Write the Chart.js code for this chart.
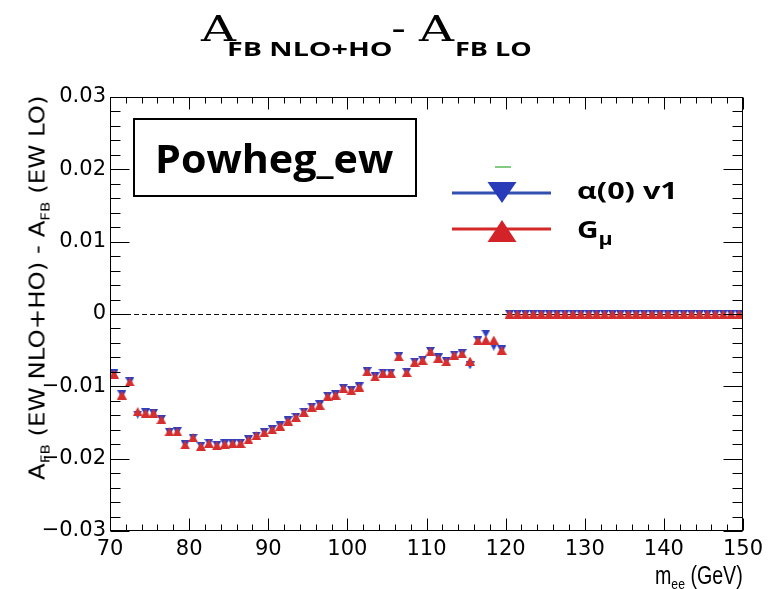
<!DOCTYPE html>
<html>
<head>
<meta charset="utf-8">
<script src="https://cdn.jsdelivr.net/npm/chart.js@4.4.1/dist/chart.umd.min.js"></script>
<style>
  html, body { margin: 0; padding: 0; background: #fff; }
  #wrap { position: relative; width: 778px; height: 589px; overflow: hidden; background: #fff; }
  #c { position: absolute; left: 0; top: 0; }
  .t { position: absolute; left: 0; top: 0; white-space: nowrap; line-height: 1; transform-origin: 0 0; color: #000; }
  .bold { font-family: "Open Sans", sans-serif; font-weight: 700; }
  .serif { font-family: "DejaVu Serif", serif; }
  .axis { font-family: "DejaVu Sans", sans-serif; font-size: 21px; }
  .xt { font-family: "Liberation Sans", sans-serif; font-size: 25px; }
  .sub { font-size: 0.62em; vertical-align: -0.35em; }
  #box { position: absolute; left: 133px; top: 118px; width: 284px; height: 79px; box-sizing: border-box; border: 2px solid #000; }
</style>
</head>
<body>
<div id="wrap">
  <canvas id="c" width="778" height="589"></canvas>
  <div class="t serif" id="tA1" style="font-size:36px">A</div>
  <div class="t bold" id="tS1" style="font-size:20px">FB NLO+HO</div>
  <div class="t bold" id="tM" style="font-size:22px">-</div>
  <div class="t serif" id="tA2" style="font-size:36px">A</div>
  <div class="t bold" id="tS2" style="font-size:20px">FB LO</div>
  <div id="box"></div>
  <div class="t bold" id="tBox" style="font-size:39px">Powheg_ew</div>
  <div class="t bold" id="tL1" style="font-size:23px">α(0) v1</div>
  <div class="t bold" id="tL2" style="font-size:24px">G<span style="font-size:0.72em;vertical-align:-0.4em">μ</span></div>
  <div class="t xt" id="tX">m<span class="sub">ee</span> (GeV)</div>
  <div class="t axis" id="tY">A<span class="sub">FB</span> (EW NLO+HO) - A<span class="sub">FB</span> (EW LO)</div>
</div>
<script>
// Dielectron invariant-mass bin centres (GeV)
const massBins = [
  70.5, 71.5, 72.5, 73.5, 74.5, 75.5, 76.5, 77.5, 78.5, 79.5,
  80.5, 81.5, 82.5, 83.5, 84.5, 85.5, 86.5, 87.5, 88.5, 89.5,
  90.5, 91.5, 92.5, 93.5, 94.5, 95.5, 96.5, 97.5, 98.5, 99.5,
  100.5, 101.5, 102.5, 103.5, 104.5, 105.5, 106.5, 107.5, 108.5, 109.5,
  110.5, 111.5, 112.5, 113.5, 114.5, 115.5, 116.5, 117.5, 118.5, 119.5,
  120.5, 121.5, 122.5, 123.5, 124.5, 125.5, 126.5, 127.5, 128.5, 129.5,
  130.5, 131.5, 132.5, 133.5, 134.5, 135.5, 136.5, 137.5, 138.5, 139.5,
  140.5, 141.5, 142.5, 143.5, 144.5, 145.5, 146.5, 147.5, 148.5, 149.5
];

// A_FB(EW NLO+HO) - A_FB(EW LO), alpha(0) v1 scheme
const alpha0Shift = [
  -0.0082, -0.0111, -0.0093, -0.0139, -0.0136, -0.0137, -0.0145, -0.0163, -0.0162, -0.0180,
  -0.0171, -0.0182, -0.0178, -0.0181, -0.0179, -0.0179, -0.0178, -0.0173, -0.0168, -0.0163,
  -0.0159, -0.0154, -0.0147, -0.0142, -0.0135, -0.0128, -0.0125, -0.0113, -0.0111, -0.0102,
  -0.0105, -0.0100, -0.0079, -0.0086, -0.0081, -0.0081, -0.0058, -0.0080, -0.0066, -0.0063,
  -0.0051, -0.0060, -0.0065, -0.0056, -0.0054, -0.0071, -0.0036, -0.0027, -0.0045, -0.0049,
  0, 0, 0, 0, 0, 0, 0, 0, 0, 0,
  0, 0, 0, 0, 0, 0, 0, 0, 0, 0,
  0, 0, 0, 0, 0, 0, 0, 0, 0, 0
];

// A_FB(EW NLO+HO) - A_FB(EW LO), G_mu scheme
const gmuShift = [
  -0.0083, -0.0112, -0.0094, -0.0135, -0.0137, -0.0137, -0.0146, -0.0163, -0.0163, -0.0181,
  -0.0171, -0.0183, -0.0179, -0.0182, -0.0180, -0.0179, -0.0179, -0.0174, -0.0168, -0.0164,
  -0.0160, -0.0155, -0.0148, -0.0143, -0.0136, -0.0129, -0.0126, -0.0114, -0.0112, -0.0103,
  -0.0106, -0.0101, -0.0080, -0.0087, -0.0082, -0.0082, -0.0059, -0.0081, -0.0067, -0.0064,
  -0.0052, -0.0061, -0.0066, -0.0057, -0.0055, -0.0065, -0.0037, -0.0036, -0.0036, -0.0050,
  0, 0, 0, 0, 0, 0, 0, 0, 0, 0,
  0, 0, 0, 0, 0, 0, 0, 0, 0, 0,
  0, 0, 0, 0, 0, 0, 0, 0, 0, 0
];

const seriesNames = ['α(0) v1', 'Gμ'];
const xTickValues = [70, 80, 90, 100, 110, 120, 130, 140, 150];
const yTickValues = [-0.03, -0.02, -0.01, 0, 0.01, 0.02, 0.03];

const BLUE = 'rgb(45,62,190)';
const RED = 'rgb(212,46,46)';

// triangle marker sprites (up for G_mu, down for alpha(0))
function triangle(color, down, w, h) {
  const c = document.createElement('canvas');
  c.width = w; c.height = h;
  const g = c.getContext('2d');
  g.fillStyle = color;
  g.beginPath();
  if (down) { g.moveTo(0, 0); g.lineTo(w, 0); g.lineTo(w / 2, h); }
  else { g.moveTo(w / 2, 0); g.lineTo(w, h); g.lineTo(0, h); }
  g.closePath();
  g.fill();
  return c;
}
const downMarker = triangle(BLUE, true, 9, 8);
const upMarker = triangle(RED, false, 10, 9);

function fmtY(v) {
  const r = Math.round(v * 100);
  if (r === 0) return '0';
  return (r < 0 ? '\u2212' : '') + '0.0' + Math.abs(r);
}

function drawTri(ctx, cx, cy, w, h, down, color) {
  ctx.fillStyle = color;
  ctx.beginPath();
  if (down) { ctx.moveTo(cx - w / 2, cy - h / 2); ctx.lineTo(cx + w / 2, cy - h / 2); ctx.lineTo(cx, cy + h / 2); }
  else { ctx.moveTo(cx, cy - h / 2); ctx.lineTo(cx + w / 2, cy + h / 2); ctx.lineTo(cx - w / 2, cy + h / 2); }
  ctx.closePath();
  ctx.fill();
}

// frame with inward ticks on all four sides, zero reference line, legend keys
const framePlugin = {
  id: 'frame',
  beforeDatasetsDraw(chart) {
    const { ctx, chartArea: a, scales: { y } } = chart;
    const y0 = Math.round(y.getPixelForValue(0)) + 0.5;
    ctx.save();
    ctx.strokeStyle = '#111';
    ctx.lineWidth = 1;
    ctx.setLineDash([5, 3]);
    ctx.beginPath();
    ctx.moveTo(a.left, y0);
    ctx.lineTo(a.right, y0);
    ctx.stroke();
    ctx.restore();
  },
  afterDraw(chart) {
    const { ctx, chartArea: a, scales: { x, y } } = chart;
    ctx.save();
    ctx.strokeStyle = '#000';
    ctx.lineWidth = 1;
    const L = Math.round(a.left) + 0.5, R = Math.round(a.right) - 0.5;
    const T = Math.round(a.top) + 0.5, B = Math.round(a.bottom) - 0.5;
    ctx.strokeRect(L, T, R - L, B - T);
    ctx.beginPath();
    for (let i = 0; i <= 40; i++) {
      const px = Math.round(x.getPixelForValue(70 + 2 * i)) + 0.5;
      const len = i % 5 === 0 ? 12 : 6;
      ctx.moveTo(px, B); ctx.lineTo(px, B - len);
      ctx.moveTo(px, T); ctx.lineTo(px, T + len);
    }
    for (let i = 0; i <= 30; i++) {
      const py = Math.round(y.getPixelForValue(-0.03 + 0.002 * i)) + 0.5;
      const len = i % 5 === 0 ? 19 : 10;
      ctx.moveTo(L, py); ctx.lineTo(L + len, py);
      ctx.moveTo(R, py); ctx.lineTo(R - len, py);
    }
    ctx.stroke();

    // legend keys
    ctx.lineWidth = 3;
    ctx.strokeStyle = 'rgb(50,80,175)';
    ctx.beginPath(); ctx.moveTo(452, 193); ctx.lineTo(551, 193); ctx.stroke();
    ctx.strokeStyle = 'rgb(212,40,40)';
    ctx.beginPath(); ctx.moveTo(452, 229); ctx.lineTo(551, 229); ctx.stroke();
    drawTri(ctx, 502, 192.5, 29, 21, true, 'rgb(40,60,185)');
    drawTri(ctx, 502, 231, 29, 22, false, 'rgb(212,35,40)');
    ctx.strokeStyle = 'rgb(90,185,90)';
    ctx.lineWidth = 1.5;
    ctx.beginPath(); ctx.moveTo(495, 167); ctx.lineTo(511, 167); ctx.stroke();
    ctx.restore();
  }
};

const toPoints = (vals) => massBins.map((m, i) => ({ x: m, y: vals[i] }));

new Chart(document.getElementById('c'), {
  type: 'scatter',
  data: {
    datasets: [
      { label: seriesNames[0], data: toPoints(alpha0Shift), pointStyle: downMarker, pointRadius: 4.5, order: 1 },
      { label: seriesNames[1], data: toPoints(gmuShift), pointStyle: upMarker, pointRadius: 5, order: 0 }
    ]
  },
  options: {
    responsive: false,
    animation: false,
    events: [],
    layout: { padding: { top: 97, right: 35, left: 0, bottom: 0 } },
    plugins: { legend: { display: false }, tooltip: { enabled: false } },
    scales: {
      x: {
        type: 'linear', min: 70, max: 150,
        grid: { display: false, drawTicks: false },
        border: { display: false },
        afterFit(s) { s.height = 58; },
        afterBuildTicks(s) { s.ticks = xTickValues.map(v => ({ value: v })); },
        ticks: { autoSkip: false, maxRotation: 0, padding: 6, color: '#000',
                 font: { family: 'DejaVu Sans', size: 21 } }
      },
      y: {
        type: 'linear', min: -0.03, max: 0.03,
        grid: { display: false, drawTicks: false },
        border: { display: false },
        afterFit(s) { s.width = 110; },
        afterBuildTicks(s) { s.ticks = yTickValues.map(v => ({ value: v })); },
        ticks: { autoSkip: false, padding: 4, color: '#000', callback: fmtY,
                 font: { family: 'DejaVu Sans', size: 21 } }
      }
    }
  },
  plugins: [framePlugin]
});

// text placement: left edge, baseline and overall width
function baselineOf(el) {
  const probe = document.createElement('span');
  probe.style.cssText = 'display:inline-block;width:0;height:0;vertical-align:baseline';
  el.appendChild(probe);
  const b = probe.offsetTop;
  el.removeChild(probe);
  return b;
}
function place(id, left, baseline, width) {
  const el = document.getElementById(id);
  const b = baselineOf(el);
  const k = width / el.offsetWidth;
  el.style.left = left + 'px';
  el.style.top = (baseline - b) + 'px';
  el.style.transform = 'scaleX(' + k + ')';
}
function placeVertical(id, baselineX, bottom, top) {
  const el = document.getElementById(id);
  const b = baselineOf(el);
  const k = (bottom - top) / el.offsetWidth;
  el.style.transform = 'translate(' + (baselineX - b) + 'px,' + bottom + 'px) rotate(-90deg) scaleX(' + k + ')';
}

place('tA1', 201, 41, 35);
place('tS1', 227, 56, 166);
place('tM', 392, 36, 13);
place('tA2', 419, 41, 35);
place('tS2', 455, 56, 77);
place('tBox', 155, 173, 238);
place('tL1', 577, 199, 101);
place('tL2', 577, 238, 36);
place('tX', 655, 584, 88);
placeVertical('tY', 44.5, 480, 95);
</script>
</body>
</html>
